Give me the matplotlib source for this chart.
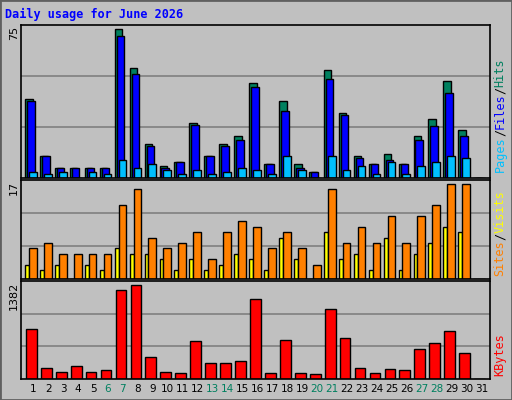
import matplotlib.pyplot as plt
import numpy as np

days = list(range(1, 32))
hits = [38.6, 10.6, 4.7, 4.7, 4.7, 4.7, 72.9, 53.8, 16.5, 5.7, 7.7, 26.8, 10.6, 16.5, 20.4, 46.4,
        6.7, 37.6, 6.7, 2.8, 52.8, 31.7, 10.6, 6.7, 11.6, 6.7, 20.4, 28.8, 47.4, 23.4, 0]
files = [37.6, 10.6, 4.7, 4.7, 4.7, 4.7, 69.4, 50.8, 15.5, 4.7, 7.7, 25.8, 10.6, 15.5, 18.5, 44.4,
         6.7, 32.7, 4.7, 2.8, 48.4, 30.7, 9.6, 6.7, 8.7, 6.7, 18.5, 25.3, 41.5, 20.4, 0]
pages = [2.8, 1.8, 2.8, 0, 2.8, 1.8, 8.7, 4.7, 6.7, 3.8, 1.8, 3.8, 1.8, 2.8, 4.7, 3.8,
         1.8, 10.6, 3.8, 0, 10.6, 3.8, 5.7, 1.8, 7.7, 1.8, 5.7, 7.7, 10.6, 9.6, 0]
sites = [5.3, 6.2, 4.3, 4.3, 4.3, 4.3, 12.7, 15.4, 7.0, 5.3, 6.2, 8.1, 3.4, 8.1, 9.9, 8.9,
         5.3, 8.1, 5.3, 2.4, 15.4, 6.2, 8.9, 6.2, 10.8, 6.2, 10.8, 12.7, 16.3, 16.3, 0]
visits = [2.4, 1.5, 2.4, 0, 2.4, 1.5, 5.3, 4.3, 4.3, 3.4, 1.5, 3.4, 1.5, 2.4, 4.3, 3.4,
          1.5, 7.0, 3.4, 0, 8.1, 3.4, 4.3, 1.5, 7.0, 1.5, 4.3, 6.2, 8.9, 8.1, 0]
kbytes = [712, 154, 98, 181, 98, 126, 1256, 1326, 307, 98, 84, 530, 223, 223, 251, 1131,
          84, 544, 84, 70, 991, 572, 154, 84, 140, 126, 419, 503, 670, 363, 0]
weekends = [6, 7, 13, 14, 20, 21, 27, 28]
max_top, max_mid, max_bot = 75, 17, 1382

W, H = 512, 400
BG = "#C0C0C0"
MONO = "DejaVu Sans Mono"

fig = plt.figure(figsize=(W / 100, H / 100), dpi=100, facecolor=BG)
fig.patches.append(plt.Rectangle((0, 0), 1, 1, transform=fig.transFigure,
                                 fill=False, edgecolor="#606060", linewidth=2))


def panel(y0, y1, ymax):
    ax = fig.add_axes([21 / W, 1 - y1 / H, (490 - 21) / W, (y1 - y0) / H])
    ax.set_facecolor(BG)
    ax.set_xlim(-0.32, 31.07)
    ax.set_ylim(0, ymax)
    for f in (1 / 3, 2 / 3):
        ax.axhline(ymax * f, color="#808080", linewidth=1.2, zorder=0)
    ax.set_xticks([])
    ax.set_yticks([])
    for s in ax.spines.values():
        s.set_color("black")
        s.set_linewidth(1.2)
    return ax


x = np.arange(31)
kw = dict(edgecolor="black", linewidth=1, align="edge")

ax1 = panel(25, 178, max_top)
ax1.bar(x - 0.05, hits, width=0.51, color="#00805F", **kw)
ax1.bar(x + 0.08, files, width=0.51, color="#0000FF", **kw)
ax1.bar(x + 0.21, pages, width=0.52, color="#00C0FF", **kw)

ax2 = panel(180, 279, max_mid)
ax2.bar(x - 0.05, visits, width=0.26, color="#FFFF00", **kw)
ax2.bar(x + 0.21, sites, width=0.52, color="#FF8000", **kw)

ax3 = panel(281, 379, max_bot)
ax3.bar(x + 0.01, kbytes, width=0.72, color="#FF0000", **kw)

# day labels
for d in days:
    px = 25.8 + (d - 0.5) * 14.94
    fig.text(px / W, 1 - 389 / H, str(d), ha="center", va="center", fontsize=7.5,
             color="#00805F" if d in weekends else "black")

fig.text(5 / W, 1 - 14 / H, "Daily usage for June 2026", fontsize=8.5, fontweight="bold",
         color="#0000FF", family=MONO, va="center")

# left scale labels
for val, ytop in [(max_top, 26), (max_mid, 181), (max_bot, 282)]:
    fig.text(14 / W, 1 - ytop / H, str(val), rotation=90, ha="center", va="top",
             fontsize=8, color="black")


# right vertical legends, pieces stacked bottom to top
def vlegend(ybottom, parts):
    cw = 7.1
    y = ybottom
    for txt, col in parts:
        fig.text(500 / W, 1 - y / H, txt, rotation=90, ha="center", va="bottom",
                 fontsize=8.5, color=col, family=MONO)
        y -= cw * len(txt)


vlegend(172, [("Pages", "#00C0FF"), ("/", "black"), ("Files", "#0000FF"),
              ("/", "black"), ("Hits", "#00805F")])
vlegend(276, [("Sites", "#FF8000"), ("/", "black"), ("Visits", "#FFFF00")])
vlegend(376, [("KBytes", "#FF0000")])

fig.savefig("out.png", dpi=100, facecolor=BG)
